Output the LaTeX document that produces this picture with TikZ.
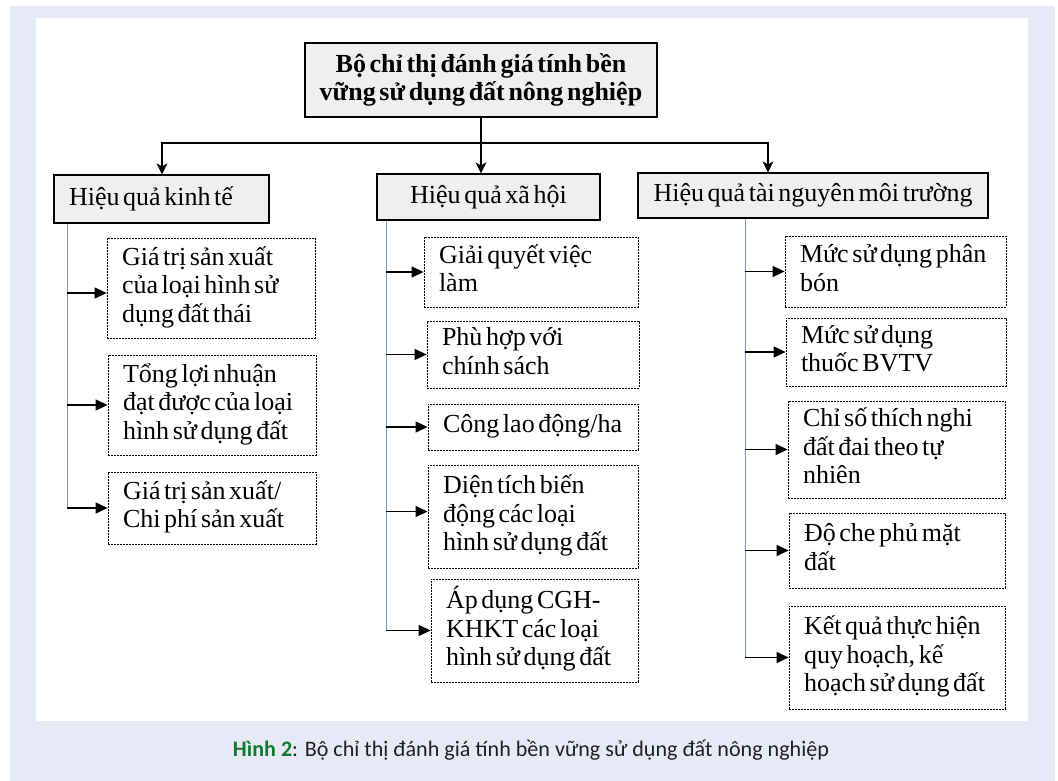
\documentclass[tikz,border=0pt]{standalone}
\usepackage{fontspec}
\usepackage{graphicx}
\setmainfont{Liberation Serif}
\newfontfamily\capfont{Carlito}
\usetikzlibrary{arrows.meta}
\definecolor{lav}{RGB}{230,234,246}
\definecolor{boxgray}{RGB}{239,239,239}
\definecolor{linkblue}{RGB}{110,155,205}
\definecolor{capgreen}{RGB}{20,120,50}
\definecolor{captext}{RGB}{35,31,32}
\newcommand\tightsp{\spaceskip=0.14em plus 0.02em\relax\xspaceskip=0.2em\relax}
\newcommand\lns[1]{\tightsp\begin{tabular}{@{}l@{}}#1\end{tabular}}
\begin{document}
\begin{tikzpicture}[x=1pt,y=-1pt,
  font=\fontsize{26}{28.5}\selectfont\tightsp,
  topbox/.style={draw, line width=1.2pt, fill=boxgray, inner sep=0pt, align=center,
    font=\bfseries\fontsize{26}{28.5}\selectfont\tightsp},
  lvbox/.style={draw, line width=1.2pt, fill=boxgray, inner ysep=0pt},
  ebox/.style={draw, line width=0.8pt, dash pattern=on 2pt off 1pt, inner xsep=15pt, inner ysep=0pt, align=left},
  darr/.style={line width=1.2pt, -{Stealth[length=11pt,width=11pt,inset=3pt]}},
  harr/.style={line width=1.2pt, -{Triangle[length=12pt,width=11pt]}},
  vline/.style={linkblue, line width=1pt}]
\fill[white] (0,0) rectangle (1058,781);
\fill[lav] (10,6) rectangle (1055,781);
\fill[white] (36,18) rectangle (1028,721);
\useasboundingbox (0,0) rectangle (1058,781);

% top
\node[topbox, minimum width=352pt, minimum height=74pt] (top) at (481,80)
  {\tightsp Bộ chỉ thị đánh giá tính bền\\vững sử dụng đất nông nghiệp};

% level 2
\node[lvbox, minimum width=215pt, minimum height=48pt, text width=185pt, inner xsep=15pt, align=left] (k1) at (161.5,199) {\tightsp Hiệu quả kinh tế};
\node[lvbox, minimum width=223pt, minimum height=46pt, inner xsep=0pt] (k2) at (488.5,197) {Hiệu quả xã hội};
\node[lvbox, minimum width=350pt, minimum height=45pt, inner xsep=0pt] (k3) at (813,195.5) {Hiệu quả tài nguyên môi trường};

% bus
\coordinate (bM) at (481,143);
\coordinate (bL) at (162,143);
\coordinate (bR) at (768,143);
\draw[darr] (top.south) -- (top.south |- k2.north);
\draw[darr] (bM) -- (bL) -- (bL |- k1.north);
\draw[darr] (bM) -- (bR) -- (bR |- k3.north);

% left column
\node[ebox, minimum height=100pt, text width=178pt] (e1) at (211,288) {\lns{Giá trị sản xuất\\của loại hình sử\\dụng đất thái}};
\node[ebox, minimum height=100pt, text width=178pt] (e2) at (212,405) {\lns{Tổng lợi nhuận\\đạt được của loại\\hình sử dụng đất}};
\node[ebox, minimum height=72pt, text width=178pt] (e3) at (212,508) {\lns{Giá trị sản xuất/\\Chi phí sản xuất}};

% middle column
\node[ebox, minimum height=70pt, text width=184pt] (m1) at (531,272) {\lns{Giải quyết việc\\làm}};
\node[ebox, minimum height=67pt, text width=182pt] (m2) at (533,354.5) {\lns{Phù hợp với\\chính sách}};
\node[ebox, minimum height=46pt, text width=180pt] (m3) at (533,427) {\lns{Công lao động/ha}};
\node[ebox, minimum height=103pt, text width=180pt] (m4) at (533,516.5) {\lns{Diện tích biến\\động các loại\\hình sử dụng đất}};
\node[ebox, minimum height=103pt, text width=177pt] (m5) at (534.5,630.5) {\lns{Áp dụng CGH-\\KHKT các loại\\hình sử dụng đất}};

% right column
\node[ebox, minimum height=71pt, text width=191pt] (r1) at (895.5,271.5) {\lns{Mức sử dụng phân\\bón}};
\node[ebox, minimum height=68pt, text width=190pt] (r2) at (896,352) {\lns{Mức sử dụng\\thuốc BVTV}};
\node[ebox, minimum height=97pt, text width=187pt] (r3) at (896.5,449.5) {\lns{Chỉ số thích nghi\\đất đai theo tự\\nhiên}};
\node[ebox, minimum height=75pt, text width=186pt] (r4) at (897,550.5) {\lns{Độ che phủ mặt\\đất}};
\node[ebox, minimum height=103pt, text width=186pt] (r5) at (897,657.5) {\lns{Kết quả thực hiện\\quy hoạch, kế\\hoạch sử dụng đất}};

% spines
\coordinate (vL) at ([xshift=14pt]k1.south west);
\coordinate (vM) at ([xshift=10pt]k2.south west);
\coordinate (vR) at ([xshift=108pt]k3.south west);
\coordinate (e1a) at ([yshift=-5pt]e1.west);
\coordinate (m4a) at ([yshift=5pt]m4.west);
\draw[vline] (vL) -- (vL |- e3.west);
\draw[vline] (vM) -- (vM |- m5.west);
\draw[vline] (vR) -- (vR |- r5.west);

\draw[harr] (vL |- e1a) -- (e1a);
\draw[harr] (vL |- e2.west) -- (e2.west);
\draw[harr] (vL |- e3.west) -- (e3.west);
\draw[harr] (vM |- m1.west) -- (m1.west);
\draw[harr] (vM |- m2.west) -- (m2.west);
\draw[harr] (vM |- m3.west) -- (m3.west);
\draw[harr] (vM |- m4a) -- (m4a);
\draw[harr] (vM |- m5.west) -- (m5.west);
\draw[harr] (vR |- r1.west) -- (r1.west);
\draw[harr] (vR |- r2.west) -- (r2.west);
\draw[harr] (vR |- r3.west) -- (r3.west);
\draw[harr] (vR |- r4.west) -- (r4.west);
\draw[harr] (vR |- r5.west) -- (r5.west);

% caption
\node[font=\capfont, inner sep=0pt] (cap) at (531,750)
  {\resizebox{596pt}{!}{\textcolor{capgreen}{\bfseries Hình 2}\textcolor{captext}{: Bộ chỉ thị đánh giá tính bền vững sử dụng đất nông nghiệp}}};
\end{tikzpicture}
\end{document}
